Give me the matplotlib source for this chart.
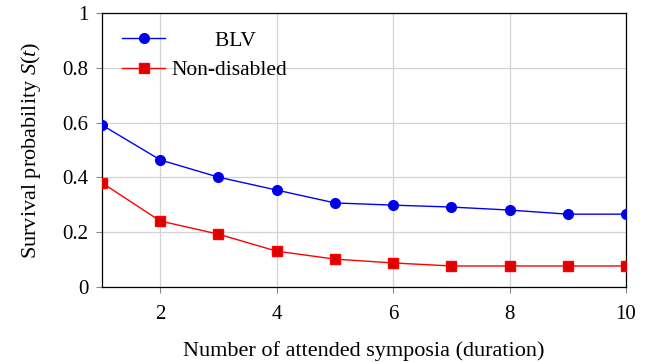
import matplotlib
matplotlib.use('Agg')
import matplotlib.pyplot as plt

# Survival curves
durations = [1, 2, 3, 4, 5, 6, 7, 8, 9, 10]
blv = [0.591, 0.464, 0.401, 0.354, 0.307, 0.299, 0.292, 0.281, 0.266, 0.266]
non_disabled = [0.380, 0.241, 0.193, 0.131, 0.102, 0.088, 0.077, 0.077, 0.077, 0.077]
x_ticks = [2, 4, 6, 8, 10]
y_ticks = [0, 0.2, 0.4, 0.6, 0.8, 1]
y_tick_labels = ['0', '0.2', '0.4', '0.6', '0.8', '1']

plt.rcParams['font.family'] = ['Liberation Serif', 'DejaVu Serif']
plt.rcParams['mathtext.fontset'] = 'custom'
plt.rcParams['mathtext.rm'] = 'Liberation Serif'
plt.rcParams['mathtext.it'] = 'Liberation Serif:italic'

fig = plt.figure(figsize=(6.46, 3.62), dpi=100)
ax = fig.add_axes([0.158, 0.207, 0.811, 0.757])

ax.plot(durations, blv, color='#0000ff', lw=1.0, marker='o', markersize=7,
        markerfacecolor='#0000dd', markeredgecolor='#0000ff', label='        BLV', zorder=3)
ax.plot(durations, non_disabled, color='#ff0000', lw=1.0, marker='s', markersize=6.5,
        markerfacecolor='#dd0000', markeredgecolor='#ff0000', label='Non-disabled', zorder=3)

ax.set_xlim(1, 10)
ax.set_ylim(0, 1)
ax.set_xticks(x_ticks)
ax.set_yticks(y_ticks)
ax.set_yticklabels(y_tick_labels)
ax.grid(True, color='#d3d3d3', lw=0.9)
ax.set_axisbelow(True)
ax.tick_params(direction='out', length=4, color='#888888', labelsize=15)
ax.tick_params(axis='x', pad=9)
ax.tick_params(axis='y', pad=6)
for s in ax.spines.values():
    s.set_linewidth(0.9)

ax.set_xlabel('Number of attended symposia (duration)', fontsize=16, labelpad=12)
ax.set_ylabel('Survival probability $S(t)$', fontsize=16, labelpad=14)

ax.legend(loc='upper left', bbox_to_anchor=(0.008, 0.995), frameon=False,
          fontsize=15.5, handlelength=2.0, labelspacing=0.45, borderaxespad=0.35,
          handletextpad=0.3)

fig.savefig('out.png', dpi=100)
